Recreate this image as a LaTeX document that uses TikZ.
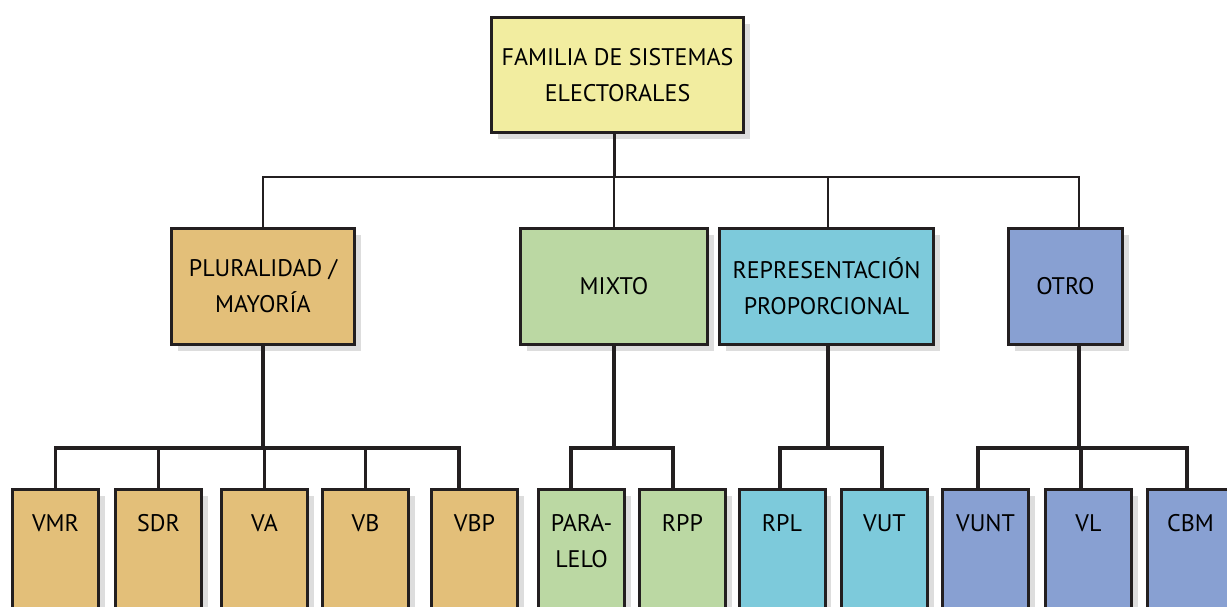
\documentclass[tikz,border=0pt]{standalone}
\usepackage{fontspec}
\setmainfont{PT Sans}
\usepackage{tikz}
\usetikzlibrary{shapes,arrows,positioning,calc,shadows}

\definecolor{amarillo}{HTML}{F2EDA0}
\definecolor{ocre}{HTML}{E3BF79}
\definecolor{verde}{HTML}{BBD8A3}
\definecolor{cian}{HTML}{7DCADB}
\definecolor{azul}{HTML}{88A0D2}
\definecolor{linea}{HTML}{231F20}

\begin{document}
\begin{tikzpicture}[x=0.5pt, y=-0.5pt]
  \tikzstyle{caja}=[rectangle, draw=linea, line width=1.5pt, font=\fontsize{12}{18}\selectfont, align=center, drop shadow={shadow xshift=3pt, shadow yshift=-3pt, fill=black!22, opacity=0.6}]
  \tikzstyle{fam}=[caja, minimum height=58pt]
  \tikzstyle{hoja}=[caja, anchor=north, minimum width=43pt, inner ysep=0pt, text height=21pt, text depth=52pt]
  \tikzstyle{rama}=[line width=1.6pt, draw=linea]
  \tikzstyle{tronco}=[line width=1.1pt, draw=linea]

  \useasboundingbox (0,0) rectangle (1227,606);

  % Raiz
  \node[caja, fill=amarillo, minimum width=126pt, minimum height=57.5pt] (sis) at (617.5,75) {FAMILIA DE SISTEMAS\\ELECTORALES};

  % Familias
  \node[fam, fill=ocre, minimum width=91.5pt] (plu) at (263,286.5) {PLURALIDAD /\\MAYORÍA};
  \node[fam, fill=verde, minimum width=93.5pt] (mix) at (614,286.5) {MIXTO};
  \node[fam, fill=cian, minimum width=107pt] (rep) at (826.5,286.5) {REPRESENTACIÓN\\PROPORCIONAL};
  \node[fam, fill=azul, minimum width=57pt] (otr) at (1065.5,286.5) {OTRO};

  % Sistemas
  \node[hoja, fill=ocre] (vmr) at (55.5,488) {VMR};
  \node[hoja, fill=ocre] (sdr) at (158.5,488) {SDR};
  \node[hoja, fill=ocre] (va) at (264.5,488) {VA};
  \node[hoja, fill=ocre] (vb) at (365.5,488) {VB};
  \node[hoja, fill=ocre] (vbp) at (474.5,488) {VBP};
  \node[hoja, fill=verde, text height=39pt, text depth=34pt] (par) at (581.5,488) {PARA-\\LELO};
  \node[hoja, fill=verde] (rpp) at (682.5,488) {RPP};
  \node[hoja, fill=cian] (rpl) at (782,488) {RPL};
  \node[hoja, fill=cian] (vut) at (884.5,488) {VUT};
  \node[hoja, fill=azul] (vunt) at (985.5,488) {VUNT};
  \node[hoja, fill=azul] (vl) at (1088.5,488) {VL};
  \node[hoja, fill=azul] (cbm) at (1190.5,488) {CBM};

  % Conexiones
  \coordinate (bus) at (0,177);
  \coordinate (bus2) at (0,448);
  \draw[rama] ([xshift=-1.5pt]sis.south) -- ([xshift=-1.5pt]sis.south |- bus);
  \draw[tronco] (plu.north) |- ([xshift=6.75pt]otr.north |- bus) -- ([xshift=6.75pt]otr.north);
  \draw[tronco] (mix.north) -- (mix.north |- bus);
  \draw[tronco] ([xshift=0.75pt]rep.north) -- ([xshift=0.75pt]rep.north |- bus);

  \draw[rama] (plu.south) -- (plu.south |- bus2);
  \draw[rama] (vmr.north) |- ([xshift=-7.75pt]vbp.north |- bus2) -- ([xshift=-7.75pt]vbp.north);
  \foreach \n in {sdr,va,vb}
    \draw[rama] (\n.north) -- (\n.north |- bus2);

  \draw[rama] (mix.south) -- (mix.south |- bus2);
  \draw[rama] ([xshift=-5.25pt]par.north) |- ([xshift=-4.75pt]rpp.north |- bus2) -- ([xshift=-4.75pt]rpp.north);

  \draw[rama] ([xshift=0.75pt]rep.south) -- ([xshift=0.75pt]rep.south |- bus2);
  \draw[rama] ([xshift=-1pt]rpl.north) |- ([xshift=-1.25pt]vut.north |- bus2) -- ([xshift=-1.25pt]vut.north);

  \draw[rama] ([xshift=6.75pt]otr.south) -- ([xshift=6.75pt]otr.south |- bus2);
  \draw[rama] ([xshift=-3.75pt]vunt.north) |- ([xshift=-1.75pt]cbm.north |- bus2) -- ([xshift=-1.75pt]cbm.north);
  \draw[rama] ([xshift=-3.75pt]vl.north) -- ([xshift=-3.75pt]vl.north |- bus2);
\end{tikzpicture}
\end{document}
